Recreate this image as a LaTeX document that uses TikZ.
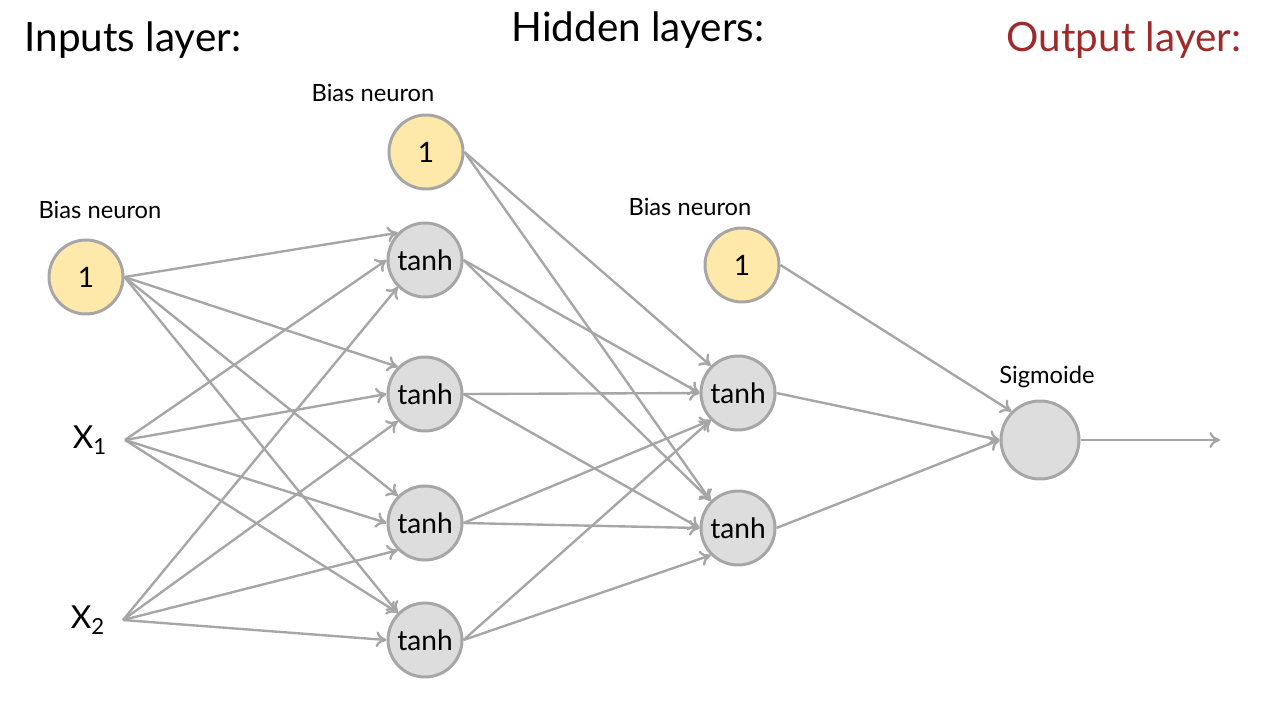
\documentclass[tikz,border=0pt]{standalone}
\usepackage{fontspec}
\setmainfont{Lato}
\usetikzlibrary{positioning,arrows.meta}

\definecolor{edgegray}{HTML}{A6A6A6}
\definecolor{cellgray}{HTML}{DDDDDD}
\definecolor{biasyellow}{HTML}{FFE9AA}
\definecolor{outred}{HTML}{9E2A2B}

\tikzset{
    neuron/.style={circle, draw=edgegray, line width=1.7pt, fill=cellgray,
        minimum size=1.48cm, inner sep=0pt, font=\fontsize{16}{18}\selectfont},
    biasneuron/.style={neuron, fill=biasyellow, font=\fontsize{16}{18}\selectfont},
    layertitle/.style={font=\fontsize{23}{27}\selectfont},
    smalllabel/.style={font=\fontsize{13.5}{16}\selectfont},
    weight/.style={draw=edgegray, line width=1.35pt, -{To[length=6pt,width=9pt]}},
}

\begin{document}
\begin{tikzpicture}[x=0.02cm, y=-0.02cm]
    \useasboundingbox[fill=white] (0,0) rectangle (1280,720);

    % titles
    \node[layertitle] (tin)  at (133,40)  {Inputs layer:};
    \node[layertitle] (thid) at (638,30)  {Hidden layers:};
    \node[layertitle, text=outred] (tout) at (1124,40) {Output layer:};

    % inputs
    \node[biasneuron] (b0) at (86,277) {1};
    \node[smalllabel] (lb0) at (100,210) {Bias neuron};
    \node[font=\fontsize{18}{20}\selectfont] (x1) at (90,440) {X\textsubscript{1}};
    \node[font=\fontsize{18}{20}\selectfont] (x2) at (88,620) {X\textsubscript{2}};
    \coordinate (x1o) at (125,440);
    \coordinate (x2o) at (123,620);

    % first hidden layer
    \node[biasneuron] (h0) at (426,152) {1};
    \node[smalllabel] (lh0) at (373,93) {Bias neuron};
    \node[neuron] (h1) at (425,260) {tanh};
    \node[neuron] (h2) at (425,394) {tanh};
    \node[neuron] (h3) at (425,523) {tanh};
    \node[neuron] (h4) at (425,640) {tanh};

    % second hidden layer
    \node[biasneuron] (g0) at (742,265) {1};
    \node[smalllabel] (lg0) at (690,207) {Bias neuron};
    \node[neuron] (g1) at (738,393) {tanh};
    \node[neuron] (g2) at (738,528) {tanh};

    % output
    \node[neuron, minimum size=1.56cm] (o) at (1040,440) {};
    \node[smalllabel] (lo) at (1047,377) {Sigmoide};
    \coordinate (oend) at (1220,440);

    % inputs -> first hidden layer
    \foreach \b in {h1,h2,h3}{
        \draw[weight] (b0.east) -- (\b.north west);
        \draw[weight] (x1o) -- (\b.west);
        \draw[weight] (x2o) -- (\b.south west);
    }
    \draw[weight] (b0.east) -- (h4.north west);
    \draw[weight] (x1o) -- (h4.north west);
    \draw[weight] (x2o) -- (h4.west);

    % first -> second hidden layer
    \foreach \a/\b/\c in {h0/g1/north west, h1/g1/west, h2/g1/west, h3/g1/south west, h4/g1/south west,
                          h0/g2/north west, h1/g2/north west, h2/g2/west, h3/g2/west, h4/g2/south west}
        \draw[weight] (\a.east) -- (\b.\c);

    % second hidden layer -> output
    \draw[weight] (g0.east) -- (o.north west);
    \draw[weight] (g1.east) -- (o.west);
    \draw[weight] (g2.east) -- (o.west);
    \draw[weight] (o.east) -- (oend);
\end{tikzpicture}
\end{document}
